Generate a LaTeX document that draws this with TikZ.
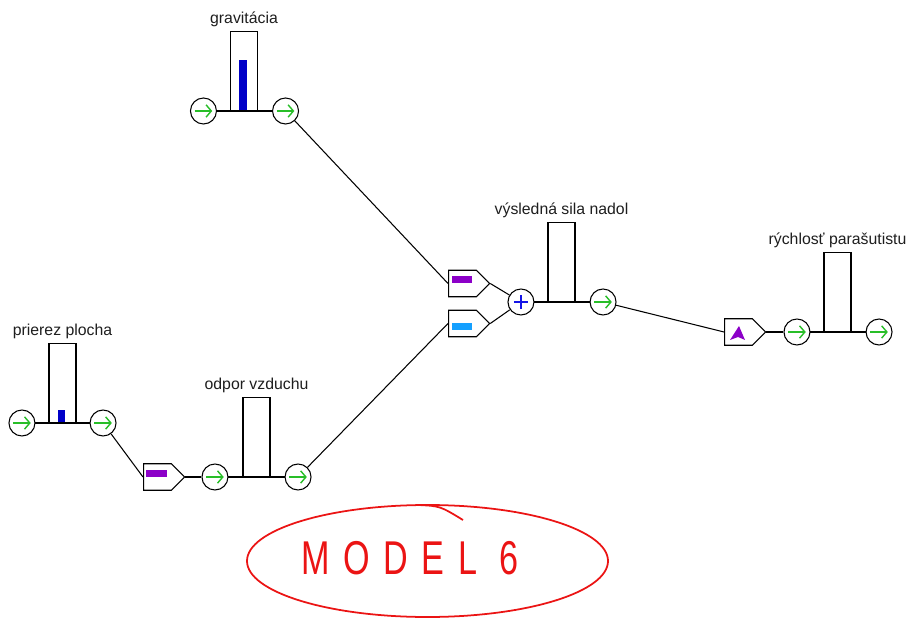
\documentclass[tikz,border=0pt]{standalone}
\usepackage{fontspec}
\setmainfont{Liberation Sans}
\usepackage{tikz}
\usetikzlibrary{positioning, shapes.symbols, arrows.meta}
\definecolor{flowgreen}{RGB}{40,190,40}
\definecolor{levelblue}{RGB}{0,0,200}
\definecolor{plusblue}{RGB}{20,20,230}
\definecolor{signviolet}{RGB}{140,0,200}
\definecolor{signblue}{RGB}{20,160,255}
\definecolor{notered}{RGB}{235,20,20}
\definecolor{labelgray}{RGB}{30,30,30}

\begin{document}
\begin{tikzpicture}[
    x=0.02cm, y=0.02cm,
    line width=0.6pt,
    font=\fontsize{9}{10}\selectfont,
    valve/.style={
        circle,
        draw,
        fill=white,
        minimum size=0.52cm,
        inner sep=0pt,
        path picture={\draw[flowgreen, line width=0.8pt, -{Straight Barb[length=3pt,width=7pt]}]
            ([xshift=-5pt]path picture bounding box.center) -- ([xshift=5pt]path picture bounding box.center);}
    },
    summer/.style={
        circle,
        draw,
        fill=white,
        minimum size=0.52cm,
        inner sep=0pt,
        path picture={\draw[plusblue, line width=0.8pt]
            ([xshift=-4pt]path picture bounding box.center) -- ([xshift=4pt]path picture bounding box.center)
            ([yshift=-4pt]path picture bounding box.center) -- ([yshift=4pt]path picture bounding box.center);}
    },
    stockbox/.style={
        rectangle,
        draw,
        fill=white,
        minimum width=0.54cm,
        minimum height=1.58cm,
        inner sep=0pt,
        anchor=south
    },
    convbox/.style={
        signal,
        signal to=east,
        signal pointer angle=90,
        draw,
        fill=white,
        minimum width=0.82cm,
        minimum height=0.53cm,
        inner sep=0pt,
        anchor=west
    },
    lbl/.style={anchor=base, text=labelgray, inner sep=0pt}
]

\useasboundingbox (0,0) rectangle (911,618);

%% gravitacia %%
\node (grav_bar) [stockbox] at (244,507) {};
\node (grav_in) [valve, left=0.26cm of grav_bar.south west] {};
\node (grav_out) [valve, right=0.28cm of grav_bar.south east] {};
\node (grav_label) [lbl] at ([yshift=4pt]grav_bar.north) {gravitácia};
\fill[levelblue] (239,507) rectangle (247,558);

%% prierez plocha %%
\node (area_bar) [stockbox] at (62.5,195) {};
\node (area_in) [valve, left=0.26cm of area_bar.south west] {};
\node (area_out) [valve, right=0.26cm of area_bar.south east] {};
\node (area_label) [lbl] at ([yshift=4pt]area_bar.north) {prierez plocha};
\fill[levelblue] (58,195) rectangle (65,208);

%% odpor vzduchu %%
\node (sign_area) [convbox] at (143,141) {};
\node (drag_bar) [stockbox] at (256.5,141) {};
\node (drag_in) [valve, left=0.28cm of drag_bar.south west] {};
\node (drag_out) [valve, right=0.28cm of drag_bar.south east] {};
\node (drag_label) [lbl] at ([yshift=4pt]drag_bar.north) {odpor vzduchu};

%% vysledna sila nadol %%
\node (sign_grav) [convbox] at (448,334.5) {};
\node (sign_drag) [convbox] at (448,294.5) {};
\node (force_bar) [stockbox] at (561.5,316) {};
\node (force_sum) [summer, left=0.26cm of force_bar.south west] {};
\node (force_out) [valve, right=0.28cm of force_bar.south east] {};
\node (force_label) [lbl] at ([yshift=4pt]force_bar.north) {výsledná sila nadol};

%% rychlost parasutistu %%
\node (sign_speed) [convbox] at (724,286) {};
\node (speed_bar) [stockbox] at (837.5,286) {};
\node (speed_in) [valve, left=0.26cm of speed_bar.south west] {};
\node (speed_out) [valve, right=0.28cm of speed_bar.south east] {};
\node (speed_label) [lbl] at ([yshift=4pt]speed_bar.north) {rýchlosť parašutistu};

%% markers inside the converters %%
\fill[signviolet] ([shift={(4,0)}]sign_grav.west) rectangle ++(20,7);
\fill[signblue] ([shift={(4,-7)}]sign_drag.west) rectangle ++(20,7);
\fill[signviolet] ([shift={(3,0)}]sign_area.west) rectangle ++(21,7);
\fill[signviolet] ([shift={(6,-8)}]sign_speed.west) -- ++(9,14) -- ++(6,-14) -- ++(-7,3) -- cycle;

%% CONNECTORS %%
\draw (grav_in) -- (grav_out);
\draw (grav_out) -- (sign_grav.west);
\draw (sign_grav.east) -- (force_sum);

\draw (area_in) -- (area_out);
\draw (area_out) -- (sign_area.west);
\draw (sign_area.east) -- (drag_in);
\draw (drag_in) -- (drag_out);
\draw (drag_out) -- (sign_drag.west);
\draw (sign_drag.east) -- (force_sum);

\draw (force_sum) -- (force_out);
\draw (force_out) -- (sign_speed.west);
\draw (sign_speed.east) -- (speed_in);
\draw (speed_in) -- (speed_out);

%% handwritten note %%
\draw[notered, line width=1pt] (427.5,57) ellipse (180.5 and 56);
\draw[notered, line width=1pt] (418,113) .. controls (440,112) .. (463,98);
\node (note_text) [text=notered, xscale=0.72, font=\fontsize{27}{30}\selectfont\addfontfeature{LetterSpace=40}] at (410,60) {MODEL\hspace{18pt}6};

\end{tikzpicture}
\end{document}
